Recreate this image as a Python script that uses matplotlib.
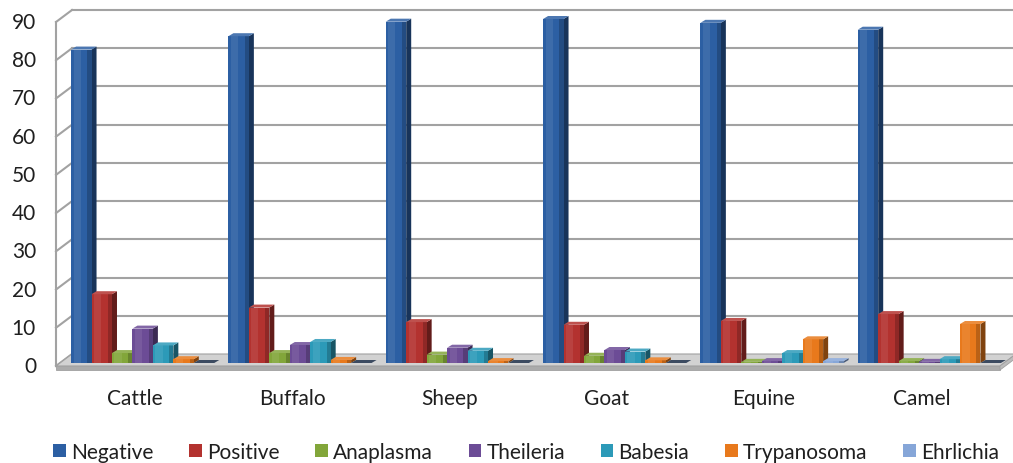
import matplotlib
matplotlib.use("Agg")
import matplotlib.pyplot as plt
import matplotlib.transforms as mtransforms
from matplotlib.patches import Polygon, Patch
from matplotlib.colors import to_rgb
import numpy as np

# ---- data -------------------------------------------------------------
categories = ["Cattle", "Buffalo", "Sheep", "Goat", "Equine", "Camel"]
series_names = ["Negative", "Positive", "Anaplasma", "Theileria",
                "Babesia", "Trypanosoma", "Ehrlichia"]
negative = [82.0, 85.5, 89.3, 90.0, 89.0, 87.2]
positive = [18.0, 14.5, 10.7, 10.0, 11.0, 12.8]
anaplasma = [2.6, 2.6, 2.2, 1.9, 0.3, 0.5]
theileria = [9.0, 4.7, 4.0, 3.4, 0.5, 0.3]
babesia = [4.6, 5.5, 3.2, 3.0, 2.6, 1.0]
trypanosoma = [1.0, 0.8, 0.5, 0.7, 6.2, 10.2]
ehrlichia = [0.0, 0.0, 0.0, 0.0, 0.5, 0.0]
y_ticks = [0, 10, 20, 30, 40, 50, 60, 70, 80, 90]

series_values = [negative, positive, anaplasma, theileria,
                 babesia, trypanosoma, ehrlichia]
series_colors = ["#2C5FA3", "#B3322F", "#82A63A", "#6C4C96",
                 "#2C9AB8", "#E8791C", "#86A6D8"]

# ---- figure / front plane axes ---------------------------------------
W, H = 1013, 464
fig = plt.figure(figsize=(W / 100, H / 100), dpi=100)
ax = fig.add_axes([56 / W, (H - 367) / H, 944 / W, 344 / H])
ax.set_xlim(-0.5, len(categories) - 0.5)
ax.set_ylim(0, 90)
ax.set_axis_off()

FONT = "Lato"
GRID = "#A2A2A2"
TEXT = "#1F1F1F"

# depth of the chart box, position of the bar row, depth of each bar (pixels)
DEPTH = (16, 12)
ROW = (8, 3)
BAR_DEPTH = (5, 3)

def shifted(dx, dy):
    return mtransforms.offset_copy(ax.transData, fig=fig, x=dx, y=dy,
                                   units="dots")

back = shifted(*DEPTH)
row = shifted(*ROW)

# pixel -> data conversion factors
fig.canvas.draw()
p0 = ax.transData.transform((0, 0))
p1 = ax.transData.transform((1, 1))
sx = 1 / (p1[0] - p0[0])
sy = 1 / (p1[1] - p0[1])
ddx, ddy = BAR_DEPTH[0] * sx, BAR_DEPTH[1] * sy
bdx, bdy = DEPTH[0] * sx, DEPTH[1] * sy

x0, x1 = ax.get_xlim()

# floor (top surface + front slab + right end)
slab_h = 4 * sy
ax.add_patch(Polygon([(x0, 0), (x1, 0), (x1 + bdx, bdy), (x0 + bdx, bdy)],
                     closed=True, facecolor="#D2D2D2", edgecolor="#A0A0A0",
                     lw=0.8, transform=ax.transData, clip_on=False, zorder=1))
ax.add_patch(Polygon([(x0, 0), (x1, 0), (x1, -slab_h), (x0, -slab_h)],
                     closed=True, facecolor="#ABABAB", edgecolor="#A0A0A0",
                     lw=0.6, transform=ax.transData, clip_on=False, zorder=1))
ax.add_patch(Polygon([(x1, 0), (x1 + bdx, bdy), (x1 + bdx, bdy - slab_h),
                      (x1, -slab_h)],
                     closed=True, facecolor="#BDBDBD", edgecolor="#A0A0A0",
                     lw=0.6, transform=ax.transData, clip_on=False, zorder=1))

# back-wall gridlines and left-wall diagonals
for t in y_ticks:
    if t > 0:
        ax.plot([x0, x1 + 0.2], [t, t], color=GRID, lw=1.5,
                transform=back, clip_on=False, zorder=0.5)
    ax.plot([x0, x0 + bdx], [t, t + bdy], color=GRID, lw=1.5,
            transform=ax.transData, clip_on=False, zorder=0.5)
ax.plot([x0, x0], [0, 90], color=GRID, lw=1.5, transform=ax.transData,
        clip_on=False, zorder=0.5)

# ---- bars ---------------------------------------------------------------
n = len(series_names)
width = 0.13
xs = np.arange(len(categories))

def shade(color, f):
    c = np.array(to_rgb(color))
    if f < 1:
        return tuple(c * f)
    return tuple(c + (1 - c) * (f - 1))

for ci in range(len(categories)):
    for si in range(n):
        v = series_values[si][ci]
        col = series_colors[si]
        xl = xs[ci] + (si - (n - 1) / 2) * width - width / 2
        xr = xl + width
        z = 2 + ci * 0.01 + si * 0.001
        # right side face
        ax.add_patch(Polygon([(xr, 0), (xr + ddx, ddy), (xr + ddx, v + ddy),
                              (xr, v)],
                             closed=True, facecolor=shade(col, 0.55),
                             edgecolor="none", transform=row, clip_on=False,
                             zorder=z))
        # front face with a soft rounded look
        ax.bar(xl, v, width=width, align="edge", color=col, edgecolor="none",
               transform=row, clip_on=False, zorder=z)
        ax.bar(xl + width * 0.12, v, width=width * 0.35, align="edge",
               color=shade(col, 1.08), edgecolor="none", transform=row,
               clip_on=False, zorder=z)
        ax.bar(xr - width * 0.2, v, width=width * 0.2, align="edge",
               color=shade(col, 0.8), edgecolor="none", transform=row,
               clip_on=False, zorder=z)
        # top face
        top_col = shade(col, 1.15) if v > 0 else shade(col, 0.45)
        ax.add_patch(Polygon([(xl, v), (xr, v), (xr + ddx, v + ddy),
                              (xl + ddx, v + ddy)],
                             closed=True, facecolor=top_col, edgecolor="none",
                             transform=row, clip_on=False, zorder=z))

# ---- text ----------------------------------------------------------------
for t in y_ticks:
    ax.text(x0 - 20 * sx, t, str(t), ha="right", va="center", fontsize=15,
            family=FONT, color=TEXT)
for ci, name in enumerate(categories):
    ax.text(xs[ci], -8.4, name, ha="center", va="center", fontsize=15,
            family=FONT, color=TEXT)

handles = [Patch(facecolor=c, edgecolor="none") for c in series_colors]
fig.legend(handles, series_names, loc="center", ncol=n,
           bbox_to_anchor=(526 / W, 1 - 453 / H), frameon=False,
           prop={"family": FONT, "size": 15}, handlelength=0.6,
           handleheight=0.6, handletextpad=0.25, columnspacing=1.72,
           labelcolor=TEXT)

fig.savefig("out.png", dpi=100)
